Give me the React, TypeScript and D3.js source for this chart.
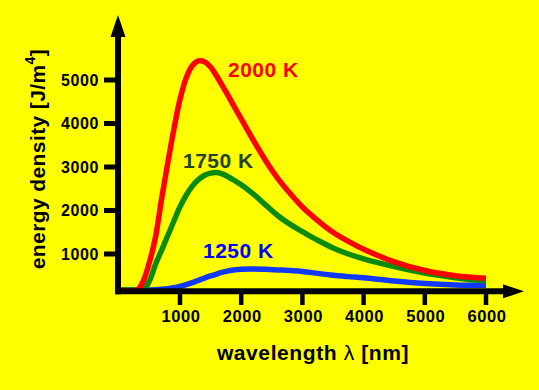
import React from "react";
import * as d3 from "d3";

const wavelengths = [0, 300, 400, 500, 600, 700, 800, 900, 1000, 1100, 1200, 1300, 1400, 1500, 1600, 1700, 1800, 1900, 2000, 2200, 2400, 2600, 2800, 3000, 3250, 3500, 3750, 4000, 4500, 5000, 5500, 6000];
const t2000 = [175, 175, 380, 808, 1393, 2275, 3095, 3870, 4557, 5048, 5330, 5440, 5420, 5300, 5087, 4850, 4604, 4355, 4106, 3610, 3145, 2735, 2390, 2080, 1770, 1500, 1290, 1110, 820, 620, 500, 440];
const t1750 = [175, 175, 175, 382, 765, 1090, 1424, 1758, 2085, 2350, 2560, 2710, 2810, 2860, 2872, 2835, 2765, 2680, 2590, 2375, 2125, 1880, 1680, 1515, 1315, 1140, 1000, 890, 710, 560, 455, 385];
const t1250 = [175, 175, 175, 175, 178, 188, 203, 225, 255, 295, 343, 395, 447, 495, 540, 582, 615, 637, 650, 655, 647, 635, 620, 600, 555, 512, 480, 452, 378, 322, 290, 280];

const xTicks = [1000, 2000, 3000, 4000, 5000, 6000];
const yTicks = [1000, 2000, 3000, 4000, 5000];

const seriesNames = ["1250 K", "1750 K", "2000 K"];
const seriesValues = [t1250, t1750, t2000];

const W = 539;
const H = 390;
const FONT = "'Liberation Sans', Arial, Helvetica, sans-serif";

export default function App() {
  const x = d3.scaleLinear().domain([0, 6000]).range([118.8, 486]);
  const y = d3.scaleLinear().domain([0, 5000]).range([297.5, 80]);
  const line = d3
    .line<[number, number]>()
    .x((d) => x(d[0]))
    .y((d) => y(d[1]))
    .curve(d3.curveCatmullRom.alpha(0.5));

  const colors = ["#1038ff", "#0a8c0a", "#ff0000"];
  const labelColors = ["#0000ff", "#224422", "#ff0000"];
  const labelPos = [
    { x: 203, y: 258 },
    { x: 183, y: 168 },
    { x: 228, y: 77 },
  ];

  const axisX = 118;
  const axisY = 291.3;

  return (
    <svg
      width={W}
      height={H}
      style={{ position: "absolute", left: 0, top: 0, display: "block" }}
    >
      <rect x={0} y={0} width={W} height={H} fill="#ffff00" />
      {seriesValues.map((vals, i) => (
        <path
          key={seriesNames[i]}
          d={line(wavelengths.map((w, j) => [w, vals[j]] as [number, number])) || ""}
          fill="none"
          stroke={colors[i]}
          strokeWidth={5.5}
          strokeLinejoin="round"
        />
      ))}
      {/* axes */}
      <line x1={axisX} y1={35} x2={axisX} y2={axisY + 3} stroke="#000" strokeWidth={6} />
      <line x1={axisX - 3} y1={axisY} x2={505} y2={axisY} stroke="#000" strokeWidth={6} />
      <polygon points={`${axisX},15 ${axisX - 7.5},37 ${axisX + 7.5},37`} fill="#000" />
      <polygon points={`524,${axisY} 503,${axisY - 7} 503,${axisY + 7}`} fill="#000" />
      {yTicks.map((t) => (
        <g key={"y" + t}>
          <line x1={104} x2={axisX} y1={y(t)} y2={y(t)} stroke="#000" strokeWidth={5} />
          <text
            x={99}
            y={y(t)}
            dy="0.36em"
            textAnchor="end"
            fontFamily={FONT}
            fontWeight="bold"
            fontSize={16}
            letterSpacing={0.6}
          >
            {t}
          </text>
        </g>
      ))}
      {xTicks.map((t) => (
        <g key={"x" + t}>
          <line x1={x(t)} x2={x(t)} y1={axisY} y2={305} stroke="#000" strokeWidth={4.5} />
          <text
            x={x(t) + 1}
            y={321.5}
            textAnchor="middle"
            fontFamily={FONT}
            fontWeight="bold"
            fontSize={16.5}
            letterSpacing={0.6}
          >
            {t}
          </text>
        </g>
      ))}
      {seriesNames.map((n, i) => (
        <text
          key={"l" + n}
          x={labelPos[i].x}
          y={labelPos[i].y}
          fill={labelColors[i]}
          fontFamily={FONT}
          fontWeight="bold"
          fontSize={21}
          letterSpacing={0.5}
        >
          {n}
        </text>
      ))}
      <text
        x={313}
        y={360}
        textAnchor="middle"
        fontFamily={FONT}
        fontWeight="bold"
        fontSize={21}
        letterSpacing={0.6}
      >
        wavelength <tspan fontWeight="normal">λ</tspan> [nm]
      </text>
      <text
        transform="translate(45,159) rotate(-90)"
        textAnchor="middle"
        fontFamily={FONT}
        fontWeight="bold"
        fontSize={21}
        letterSpacing={0.4}
      >
        energy density [J/m<tspan fontSize={14} dy={-10}>4</tspan>
        <tspan dy={10}>]</tspan>
      </text>
    </svg>
  );
}
